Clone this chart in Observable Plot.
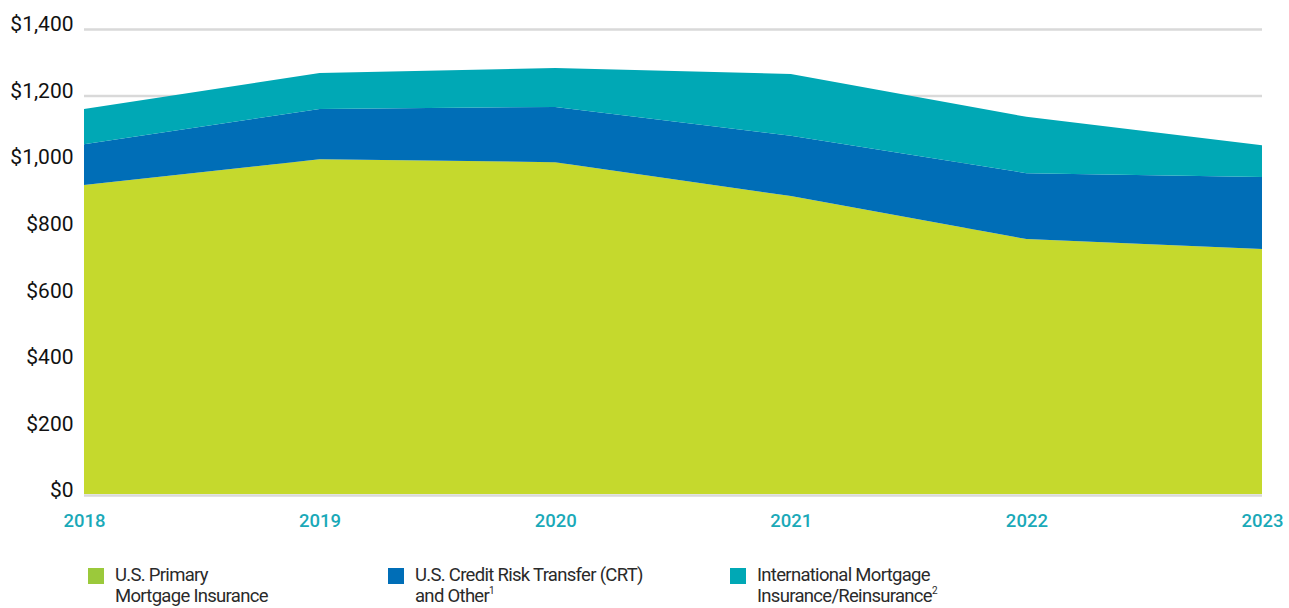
<!DOCTYPE html>
<html>
<head>
<meta charset="utf-8">
<script src="https://cdn.jsdelivr.net/npm/d3@7"></script>
<script src="https://cdn.jsdelivr.net/npm/@observablehq/plot@0.6"></script>
<style>
  body { margin: 0; background: #fff; font-family: Roboto, "Noto Sans", sans-serif; }
  #wrap { position: relative; width: 1289px; height: 608px; overflow: hidden; }
  #legend { position: absolute; left: 0; top: 565px; width: 1289px; }
  .item { position: absolute; top: 0; display: flex; align-items: flex-start; }
  .sw { width: 16px; height: 16px; margin-top: 3px; margin-right: 11px; }
  .lbl { font-size: 18.5px; line-height: 21px; color: #2a2a2a; letter-spacing: -0.7px; }
  .lbl sup { font-size: 10px; vertical-align: 8px; line-height: 0; }
</style>
</head>
<body>
<div id="wrap">
  <div id="chart"></div>
  <div id="legend"></div>
</div>
<script>
const years = [2018, 2019, 2020, 2021, 2022, 2023];
const primary = [928, 1006, 997, 895, 766, 736];
const crt = [123, 151, 166, 181, 198, 216];
const intl = [106, 108, 117, 186, 169, 96];
const seriesNames = ["U.S. Primary Mortgage Insurance", "U.S. Credit Risk Transfer (CRT) and Other", "International Mortgage Insurance/Reinsurance"];
const seriesColors = ["#c5d92d", "#006eb7", "#00a8b5"];
const yTicks = [0, 200, 400, 600, 800, 1000, 1200, 1400];
const legendLines = [["U.S. Primary", "Mortgage Insurance", ""], ["U.S. Credit Risk Transfer (CRT)", "and Other", "1"], ["International Mortgage", "Insurance/Reinsurance", "2"]];

const seriesValues = [primary, crt, intl];
const data = [];
seriesValues.forEach((vals, si) => {
  years.forEach((yr, i) => data.push({year: yr, series: seriesNames[si], value: vals[i]}));
});

const chart = Plot.plot({
  width: 1289,
  height: 540,
  marginTop: 28,
  marginBottom: 46,
  marginLeft: 84,
  marginRight: 27,
  style: {fontFamily: "Roboto, sans-serif", background: "#fff"},
  x: {domain: [2018, 2023], label: null},
  y: {domain: [0, 1400], label: null},
  color: {domain: seriesNames, range: seriesColors},
  marks: [
    Plot.ruleY(yTicks, {stroke: "#d9d9d9", strokeWidth: 2.5, dy: 1}),
    Plot.areaY(data, {x: "year", y: "value", z: "series", fill: "series", order: seriesNames}),
    Plot.axisY({ticks: yTicks, tickSize: 0, tickPadding: 11, tickFormat: d => "$" + d3.format(",")(d), fontSize: 21, fill: "#111", dy: -4, label: null, style: {letterSpacing: "-0.8px"}}),
    Plot.axisX({ticks: years, tickSize: 0, tickPadding: 19, tickFormat: d => String(d), fontSize: 18.5, fontWeight: 500, fill: "#1aa9b8", label: null, style: {letterSpacing: "-0.6px"}})
  ]
});
document.getElementById("chart").appendChild(chart);

const legend = document.getElementById("legend");
const lefts = [88, 388, 730];
legendLines.forEach((l, i) => {
  const d = document.createElement("div");
  d.className = "item";
  d.style.left = lefts[i] + "px";
  const sw = document.createElement("div");
  sw.className = "sw";
  sw.style.background = i === 0 ? "#9bc93b" : seriesColors[i];
  const t = document.createElement("div");
  t.className = "lbl";
  t.innerHTML = l[0] + "<br>" + l[1] + (l[2] ? "<sup>" + l[2] + "</sup>" : "");
  d.appendChild(sw);
  d.appendChild(t);
  legend.appendChild(d);
});
</script>
</body>
</html>
